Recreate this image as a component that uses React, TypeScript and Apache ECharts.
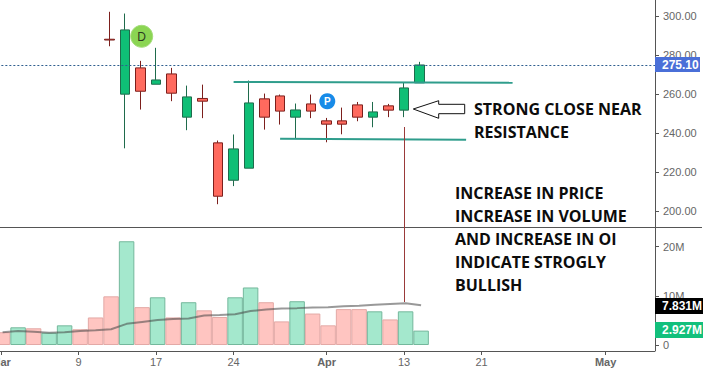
import React, { useEffect, useRef } from "react";
import * as echarts from "echarts";

const categories = ["Mar","3","4","5","6","9","11","12","13","16","17","18","19","20","23","24","25","26","27","30","31","Apr","3","7","8","9","13","15","16","17","20","21","22","23","24","27","28","29","30","May","4","5","6"];
const labelledIndexes = [0, 5, 10, 15, 21, 26, 31, 39];
const monthLabels = ["Mar", "Apr", "May"];

const candleOpen = [288.3,260.1,273.6,265.2,270.5,248.3,257.9,235.1,215.9,222.1,257.7,259.2,248.3,255.1,246.4,246.4,254.6,248.3,254.1,251.9,265.9];
const candleClose = [287.9,293.1,261.6,267.4,260.6,258.7,256.5,207.7,232,255.6,248.3,251.4,252,251.4,244.7,244.7,248.3,251,251.9,263.3,275.1];
const candleLow = [284.7,232.3,252.2,265.2,256.5,241.6,247.8,203.6,212.9,222.1,241.9,244.5,237.1,247.8,235.4,239.5,246.2,243.1,248.3,248.3,265.9];
const candleHigh = [302.4,301.5,277.2,283.9,273.6,264.5,265,236.3,239.4,267.1,260.4,259.9,255.3,259.9,247.9,253.2,256.1,256.1,255.1,265.9,276.7];
const firstCandleIndex = 7;

const volumes = [2.6,3.6,3.4,2.5,4,3.2,5.6,9.9,21.1,7.7,9.7,5.6,8.7,7.05,5.7,9.7,11.7,8.7,4.8,8.9,6.4,4,7.3,7.3,6.85,5.2,6.85,2.927];
const volumeUp = [0,1,0,1,1,0,0,0,1,0,1,0,1,0,0,1,1,0,0,1,0,0,0,0,1,0,1,1];
const volumeAverage = [2.6,2.85,2.7,2.5,2.6,2.85,3,3.2,4.3,4.7,5.1,5.3,5.4,6,6.1,6.25,6.9,7.2,7.4,7.5,7.65,7.7,7.9,8,8.2,8.35,8.5,8.07];

const priceTicks = [200, 220, 240, 260, 280, 300];
const volumeTicks = [0, 10, 20];
const lastPrice = 275.1;
const resistance = [[15, 266.4], [33, 265.9]];
const support = [[18, 237.2], [30, 236.7]];

const noteOne = ["STRONG CLOSE NEAR", "RESISTANCE"];
const noteTwo = ["INCREASE IN PRICE", "INCREASE IN VOLUME", "AND INCREASE IN OI", "INDICATE STROGLY", "BULLISH"];

const textFont = "'Open Sans', sans-serif";
const axisFont = "'Liberation Sans', Arial, sans-serif";

function App() {
  const ref = useRef<HTMLDivElement>(null);
  useEffect(() => {
    const chart = echarts.init(ref.current!, null, { renderer: "svg" });
    const candleData = categories.map((_, i) => {
      const k = i - firstCandleIndex;
      return k >= 0 && k < candleOpen.length ? [candleOpen[k], candleClose[k], candleLow[k], candleHigh[k]] : "-";
    });
    const noteText = (text: string, x: number, y: number) => ({
      type: "text", x, y, z: 100,
      style: { text, fill: "#0c0c0c", font: `bold 16px ${textFont}`, textVerticalAlign: "middle", textAlign: "left" },
    });
    const priceBox = (text: string, y: number, h: number, w: number, fill: string) => [
      { type: "rect", z: 100, shape: { x: 655, y, width: w, height: h }, style: { fill } },
      { type: "text", z: 101, x: 662, y: y + h / 2, style: { text, fill: "#fff", font: `bold 12px ${axisFont}`, textVerticalAlign: "middle" } },
    ];
    chart.setOption({
      animation: false,
      backgroundColor: "#fff",
      grid: [
        { left: -6.65, top: 0, width: 666.5, height: 227, outerBoundsMode: "none" },
        { left: -5.15, top: 227, width: 666.5, height: 124, outerBoundsMode: "none" },
      ],
      xAxis: [
        {
          type: "category", gridIndex: 0, data: categories, position: "bottom", offset: 124,
          axisLine: { show: false },
          axisTick: { show: true, alignWithLabel: true, length: 4, interval: (i: number) => labelledIndexes.includes(i), lineStyle: { color: "#555" } },
          axisLabel: {
            interval: (i: number) => labelledIndexes.includes(i), margin: 5,
            formatter: (v: string) => (monthLabels.includes(v) ? `{b|${v}}` : v),
            color: "#666", fontSize: 11, fontFamily: axisFont,
            rich: { b: { fontWeight: "bold", color: "#666", fontSize: 11, fontFamily: axisFont } },
          },
          splitLine: { show: false },
        },
        { type: "category", gridIndex: 1, data: categories, show: false },
      ],
      yAxis: [
        {
          type: "value", gridIndex: 0, position: "right", offset: -4.85, min: 191.9, max: 308.45, scale: true,
          axisLine: { show: true, lineStyle: { color: "#555" } },
          axisTick: { show: true, length: 4, customValues: priceTicks, lineStyle: { color: "#555" } },
          axisLabel: { customValues: priceTicks, formatter: (v: number) => v.toFixed(2), color: "#666", fontSize: 11, fontFamily: axisFont, margin: 8 },
          splitLine: { show: false },
        },
        {
          type: "value", gridIndex: 1, position: "right", offset: -6.35, min: -1.22, max: 24,
          axisLine: { show: true, lineStyle: { color: "#555" } },
          axisTick: { show: true, length: 4, customValues: volumeTicks, lineStyle: { color: "#555" } },
          axisLabel: { customValues: volumeTicks, formatter: (v: number) => (v === 0 ? "0" : `${v}M`), color: "#666", fontSize: 11, fontFamily: axisFont, margin: 8 },
          splitLine: { show: false },
        },
      ],
      series: [
        {
          type: "bar", xAxisIndex: 1, yAxisIndex: 1, barWidth: "100%", z: 1,
          data: volumes.map((v, i) => ({
            value: v,
            itemStyle: volumeUp[i]
              ? { color: "#a4e8cd", borderColor: "#74b89c", borderWidth: 1 }
              : { color: "#ffc5c1", borderColor: "#e3a9a6", borderWidth: 1 },
          })),
        },
        {
          type: "line", xAxisIndex: 1, yAxisIndex: 1, z: 2, symbol: "none", smooth: false,
          data: volumeAverage,
          lineStyle: { color: "rgba(70,70,70,0.55)", width: 2 },
        },
        {
          type: "candlestick", xAxisIndex: 0, yAxisIndex: 0, barWidth: 10, z: 3,
          data: candleData,
          itemStyle: { color: "#0fbf76", color0: "#ff6a5e", borderColor: "#1f6b4c", borderColor0: "#7c1f1c", borderWidth: 1 },
          markLine: {
            silent: true, symbol: "none", animation: false, label: { show: false },
            data: [
              { yAxis: lastPrice, lineStyle: { color: "#2f5f8f", type: [2, 2], width: 1 } },
              [{ xAxis: resistance[0][0], yAxis: resistance[0][1], lineStyle: { color: "#2f9d8c", type: "solid", width: 2 } }, { xAxis: resistance[1][0], yAxis: resistance[1][1] }],
              [{ xAxis: support[0][0], yAxis: support[0][1], lineStyle: { color: "#2f9d8c", type: "solid", width: 2 } }, { xAxis: support[1][0], yAxis: support[1][1] }],
            ],
          },
        },
      ],
      graphic: [
        { type: "line", z: 50, shape: { x1: 0, y1: 227.5, x2: 702, y2: 227.5 }, style: { stroke: "#555", lineWidth: 1 } },
        { type: "line", z: 50, shape: { x1: 0, y1: 351.5, x2: 655, y2: 351.5 }, style: { stroke: "#555", lineWidth: 1 } },
        { type: "line", z: 60, shape: { x1: 404.5, y1: 127, x2: 404.5, y2: 302 }, style: { stroke: "#9a3a3a", lineWidth: 1 } },
        { type: "polygon", z: 60, shape: { points: [[413.3,109],[438.7,100.7],[438.7,104.3],[464.7,104.3],[464.7,113.7],[438.7,113.7],[438.7,118.3]] }, style: { fill: "#fff", stroke: "#111", lineWidth: 1 } },
        { type: "circle", z: 60, shape: { cx: 141.7, cy: 36.3, r: 11 }, style: { fill: "#8bd553", stroke: "#a5dd7c", lineWidth: 1 } },
        { type: "text", z: 61, x: 141.7, y: 36.5, style: { text: "D", fill: "#2a3a20", font: `12px ${axisFont}`, textAlign: "center", textVerticalAlign: "middle" } },
        { type: "circle", z: 60, shape: { cx: 327.3, cy: 101.3, r: 8 }, style: { fill: "#178be8" } },
        { type: "text", z: 61, x: 327.3, y: 101.5, style: { text: "P", fill: "#fff", font: `bold 10px ${axisFont}`, textAlign: "center", textVerticalAlign: "middle" } },
        ...priceBox("275.10", 57, 15, 45, "#4a6fd8"),
        ...priceBox("7.831M", 298, 16, 48, "#000"),
        ...priceBox("2.927M", 322, 16, 48, "#12c07c"),
        ...noteOne.map((t, i) => noteText(t, 474, 109 + i * 23)),
        ...noteTwo.map((t, i) => noteText(t, 455, 193 + i * 23)),
      ],
    });
    return () => chart.dispose();
  }, []);
  return <div ref={ref} style={{ position: "fixed", left: 0, top: 0, width: 705, height: 369, background: "#fff" }} />;
}

export default App;
